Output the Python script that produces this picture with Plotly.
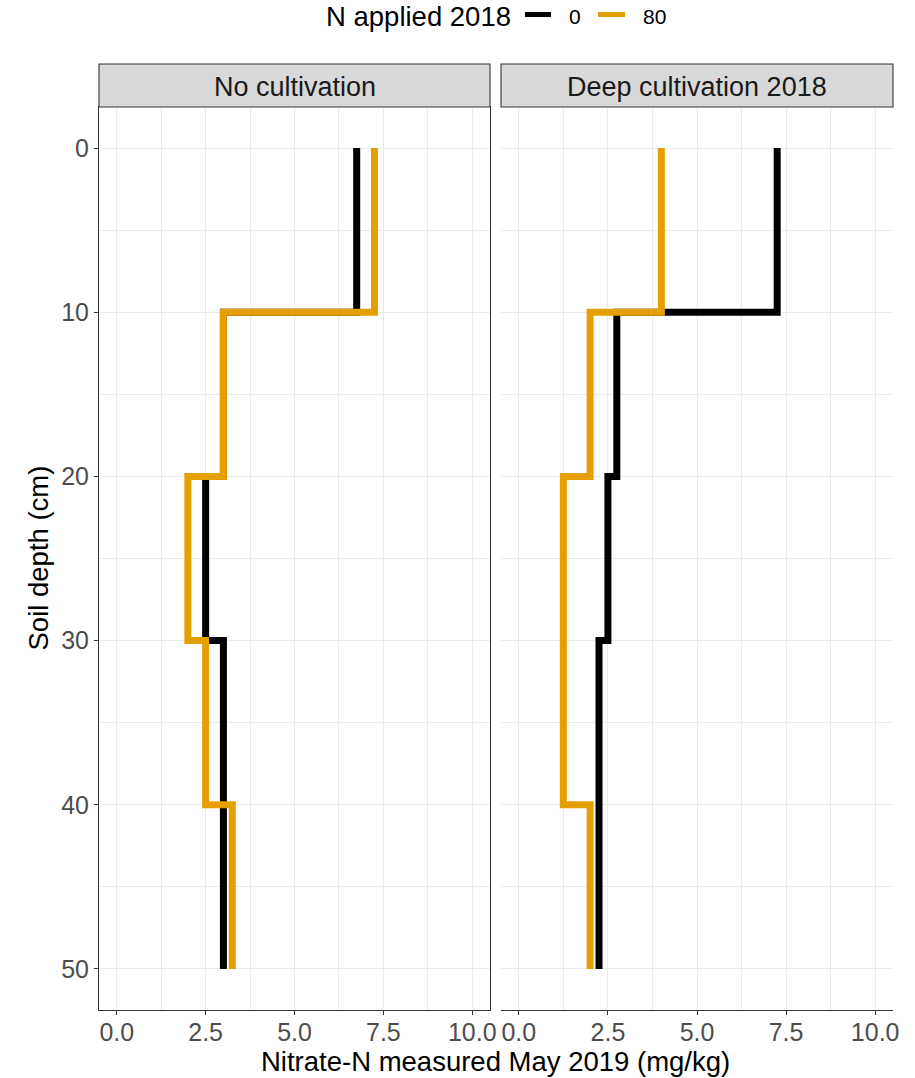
import plotly.graph_objects as go

# Soil layers (cm) and nitrate-N per layer (mg/kg)
layer_top = [0, 10, 20, 30, 40]
layer_bottom = [10, 20, 30, 40, 50]

panels = ["No cultivation", "Deep cultivation 2018"]
n_rates = ["0", "80"]
colors = {"0": "#000000", "80": "#E69F00"}

no_cult_n0 = [6.75, 3.0, 2.5, 3.0, 3.0]
no_cult_n80 = [7.25, 3.0, 2.0, 2.5, 3.25]
deep_cult_n0 = [7.25, 2.75, 2.5, 2.25, 2.25]
deep_cult_n80 = [4.0, 2.0, 1.25, 1.25, 2.0]

series = {
    ("No cultivation", "0"): no_cult_n0,
    ("No cultivation", "80"): no_cult_n80,
    ("Deep cultivation 2018", "0"): deep_cult_n0,
    ("Deep cultivation 2018", "80"): deep_cult_n80,
}

x_ticks = [0, 2.5, 5, 7.5, 10]
y_ticks = [0, 10, 20, 30, 40, 50]


def step_profile(values):
    """Path through top and bottom of each layer at the layer's value."""
    xs, ys = [], []
    for v, t, b in zip(values, layer_top, layer_bottom):
        xs += [v, v]
        ys += [t, b]
    return xs, ys


W, H = 915, 1078
panel_px = [(99, 490), (501, 893)]
plot_top, plot_bottom = 107, 1010
strip_top = 64
FONT = "Liberation Sans"

fig = go.Figure()
for i, panel in enumerate(panels):
    xa = "x" if i == 0 else "x2"
    for rate in n_rates:
        xs, ys = step_profile(series[(panel, rate)])
        fig.add_trace(go.Scatter(
            x=xs, y=ys, mode="lines", xaxis=xa, yaxis="y",
            line=dict(color=colors[rate], width=7),
            name=rate, showlegend=False, hoverinfo="x+y",
        ))

grid_major = "#EBEBEB"
axis_common = dict(
    range=[-0.5, 10.5], tickvals=x_ticks, tickformat=".1f",
    showgrid=True, gridcolor=grid_major, gridwidth=1.1,
    minor=dict(dtick=1.25, tick0=0, showgrid=True, gridcolor=grid_major, gridwidth=0.55),
    showline=True, mirror=True, linecolor="#333333", linewidth=1.1,
    ticks="outside", ticklen=4, tickcolor="#333333", tickwidth=1.1,
    tickfont=dict(family=FONT, size=25, color="#4D4D4D"),
    ticklabelstandoff=-4,
    zeroline=False, fixedrange=True,
)

y_dom = [1 - plot_bottom / H, 1 - plot_top / H]
fig.update_layout(
    width=W, height=H, autosize=False,
    margin=dict(l=0, r=0, t=0, b=0, autoexpand=False),
    paper_bgcolor="white", plot_bgcolor="white",
    font=dict(family=FONT, color="#000000"),
    xaxis=dict(domain=[panel_px[0][0] / W, panel_px[0][1] / W], anchor="y", **axis_common),
    xaxis2=dict(domain=[panel_px[1][0] / W, panel_px[1][1] / W], anchor="y2", **axis_common),
    yaxis=dict(
        domain=y_dom, range=[52.5, -2.5], tickvals=y_ticks,
        showgrid=True, gridcolor=grid_major, gridwidth=1.1,
        minor=dict(dtick=5, tick0=0, showgrid=True, gridcolor=grid_major, gridwidth=0.55),
        showline=True, mirror=True, linecolor="#333333", linewidth=1.1,
        ticks="outside", ticklen=4, tickcolor="#333333", tickwidth=1.1,
        tickfont=dict(family=FONT, size=25, color="#4D4D4D"),
        zeroline=False, anchor="x", fixedrange=True,
    ),
    yaxis2=dict(
        domain=y_dom, range=[52.5, -2.5], tickvals=y_ticks, showticklabels=False,
        showgrid=True, gridcolor=grid_major, gridwidth=1.1,
        minor=dict(dtick=5, tick0=0, showgrid=True, gridcolor=grid_major, gridwidth=0.55),
        showline=True, mirror=True, linecolor="#333333", linewidth=1.1,
        zeroline=False, anchor="x2", matches="y", fixedrange=True,
    ),
    showlegend=False,
)

# Facet strips
for i, panel in enumerate(panels):
    x0, x1 = panel_px[i]
    fig.add_shape(type="rect", xref="paper", yref="paper",
                  x0=x0 / W, x1=x1 / W, y0=1 - plot_top / H, y1=1 - strip_top / H,
                  fillcolor="#D9D9D9", line=dict(color="#333333", width=1.1), layer="above")
    fig.add_annotation(text=panel, xref="paper", yref="paper",
                       x=(x0 + x1) / 2 / W, y=1 - 87 / H,
                       xanchor="center", yanchor="middle", showarrow=False,
                       font=dict(family=FONT, size=27, color="#1A1A1A"))

# Legend across the top: title, then a short key line and label per N rate
legend_y = 1 - 16 / H
fig.add_annotation(text="N applied 2018", xref="paper", yref="paper",
                   x=324 / W, y=legend_y, xanchor="left", yanchor="middle",
                   showarrow=False, font=dict(family=FONT, size=27.5, color="#000000"))
key_x = {"0": (525, 551, 567), "80": (598, 625, 641)}
for rate in n_rates:
    k0, k1, tx = key_x[rate]
    fig.add_shape(type="line", xref="paper", yref="paper",
                  x0=k0 / W, x1=k1 / W, y0=1 - 14.5 / H, y1=1 - 14.5 / H,
                  line=dict(color=colors[rate], width=5))
    fig.add_annotation(text=rate, xref="paper", yref="paper",
                       x=tx / W, y=legend_y, xanchor="left", yanchor="middle",
                       showarrow=False, font=dict(family=FONT, size=21, color="#000000"))

# Axis titles
fig.add_annotation(text="Nitrate-N measured May 2019 (mg/kg)", xref="paper", yref="paper",
                   x=(panel_px[0][0] + panel_px[1][1]) / 2 / W, y=1 - 1061 / H,
                   xanchor="center", yanchor="middle", showarrow=False,
                   font=dict(family=FONT, size=27.5, color="#000000"))
fig.add_annotation(text="Soil depth (cm)", xref="paper", yref="paper",
                   x=38 / W, y=1 - (plot_top + plot_bottom) / 2 / H,
                   xanchor="center", yanchor="middle", textangle=-90, showarrow=False,
                   font=dict(family=FONT, size=27.5, color="#000000"))

fig.write_html("out.html", config={"responsive": False})
